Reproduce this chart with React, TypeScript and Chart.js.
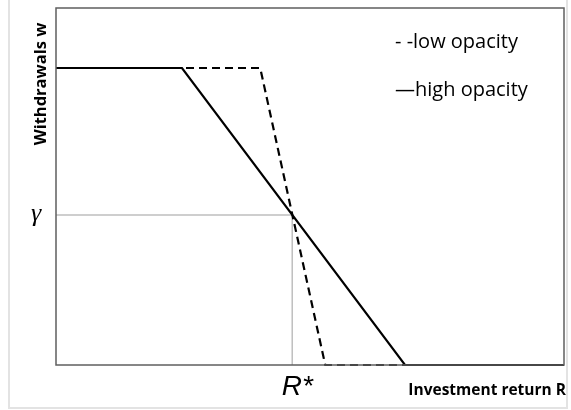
import React, { useEffect, useRef } from "react";
import { Chart, registerables } from "chart.js";

Chart.register(...registerables);

// Data (x = investment return R, y = withdrawals w), arbitrary units 0..100
const highX = [0, 24.8, 68.7, 100];
const highY = [83.2, 83.2, 0, 0];
const lowX = [0, 40.2, 53.0, 100];
const lowY = [83.2, 83.2, 0, 0];
const gammaValue = 42;
const rStarValue = 46.5;
const legendLabels = ["- -low opacity", "\u2014high opacity"];
const xTitle = "Investment return R";
const yTitle = "Withdrawals w";

const toPts = (xs: number[], ys: number[]) => xs.map((x, i) => ({ x, y: ys[i] }));

const decorPlugin = {
  id: "decor",
  beforeDraw(chart: any) {
    const { ctx, width, height } = chart;
    ctx.save();
    ctx.fillStyle = "#ffffff";
    ctx.fillRect(0, 0, width, height);
    ctx.strokeStyle = "#e3e3e3";
    ctx.lineWidth = 2;
    ctx.strokeRect(9, -2, 558, 410);
    ctx.restore();
  },
  afterDatasetsDraw(chart: any) {
    const { ctx, chartArea } = chart;
    ctx.save();
    ctx.strokeStyle = "#5f5f5f";
    ctx.lineWidth = 1.5;
    ctx.strokeRect(chartArea.left, chartArea.top, chartArea.right - chartArea.left, chartArea.bottom - chartArea.top);
    ctx.restore();
  },
  afterDraw(chart: any) {
    const { ctx } = chart;
    const xs = chart.scales.x;
    const ys = chart.scales.y;
    ctx.save();
    ctx.fillStyle = "#000000";
    // gamma label
    ctx.font = "italic 26px 'Liberation Serif', 'DejaVu Serif', serif";
    ctx.textAlign = "center";
    ctx.textBaseline = "middle";
    ctx.fillText("\u03b3", 36, ys.getPixelForValue(gammaValue) - 1);
    // R* label
    ctx.font = "italic 28px 'Liberation Sans', Arial, sans-serif";
    ctx.textAlign = "center";
    ctx.textBaseline = "alphabetic";
    ctx.fillText("R*", xs.getPixelForValue(rStarValue) + 5, 395);
    // x title
    ctx.font = "bold 15.5px 'Open Sans', 'Liberation Sans', sans-serif";
    ctx.textAlign = "right";
    ctx.fillText(xTitle, 566, 395);
    // y title
    ctx.save();
    ctx.translate(46, 84);
    ctx.rotate(-Math.PI / 2);
    ctx.font = "bold 16.5px 'Open Sans', 'Liberation Sans', sans-serif";
    ctx.textAlign = "center";
    ctx.textBaseline = "alphabetic";
    ctx.fillText(yTitle, 0, 0);
    ctx.restore();
    // legend
    ctx.font = "20px 'Open Sans', 'Liberation Sans', sans-serif";
    ctx.textAlign = "left";
    ctx.textBaseline = "middle";
    ctx.fillText(legendLabels[0], 395, 42);
    ctx.fillText(legendLabels[1], 395, 90);
    ctx.restore();
  },
};

export default function App() {
  const canvasRef = useRef<HTMLCanvasElement | null>(null);

  useEffect(() => {
    if (!canvasRef.current) return;
    const chart = new Chart(canvasRef.current, {
      type: "line",
      data: {
        datasets: [
          {
            label: "high opacity",
            data: toPts(highX, highY),
            borderColor: "#000000",
            borderWidth: 2.2,
            pointRadius: 0,
            fill: false,
            tension: 0,
            clip: false,
            order: 1,
          },
          {
            label: "low opacity",
            data: toPts(lowX, lowY),
            borderColor: "#000000",
            borderWidth: 2.2,
            borderDash: [8, 5],
            pointRadius: 0,
            fill: false,
            tension: 0,
            clip: false,
            order: 2,
          },
          {
            label: "gamma",
            data: [
              { x: 0, y: gammaValue },
              { x: rStarValue, y: gammaValue },
              { x: rStarValue, y: 0 },
            ],
            borderColor: "#bfbfbf",
            borderWidth: 1.5,
            pointRadius: 0,
            fill: false,
            tension: 0,
            clip: false,
            order: 3,
          },
        ],
      },
      options: {
        animation: false,
        responsive: true,
        maintainAspectRatio: false,
        layout: { padding: { left: 56, top: 8, right: 7, bottom: 45 } },
        plugins: {
          legend: { display: false },
          tooltip: { enabled: false },
          title: { display: false },
        },
        scales: {
          x: { type: "linear", min: 0, max: 100, display: false },
          y: { type: "linear", min: 0, max: 100, display: false },
        },
      },
      plugins: [decorPlugin],
    });
    return () => chart.destroy();
  }, []);

  return (
    <div style={{ position: "absolute", left: 0, top: 0, width: 571, height: 410 }}>
      <canvas ref={canvasRef} />
    </div>
  );
}
